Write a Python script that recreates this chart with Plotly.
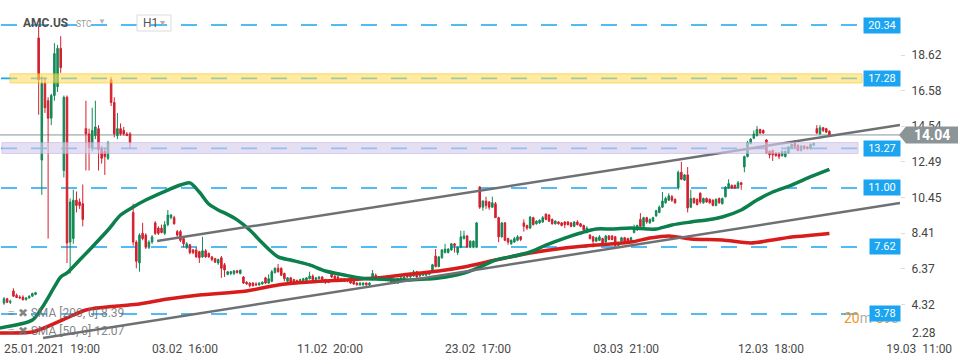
import plotly.graph_objects as go

# ---------------- data ----------------
# hourly candles (open, high, low, close), in time order, split by period
CANDLES_25_26JAN = [
    (4.40, 4.75, 4.30, 4.65), (4.65, 4.70, 4.40, 4.45), (4.45, 4.60, 4.35, 4.50),
    (5.10, 5.25, 4.75, 4.80), (4.85, 4.95, 4.70, 4.72), (4.75, 4.85, 4.65, 4.70),
    (4.75, 4.85, 4.55, 4.60), (4.60, 4.75, 4.55, 4.70), (4.70, 4.85, 4.65, 4.80),
    (4.80, 5.00, 4.75, 4.95), (4.90, 5.05, 4.85, 5.00),
]
CANDLES_27_28JAN = [
    (19.6, 20.3, 15.2, 17.2), (12.6, 17.4, 10.6, 17.0), (17.0, 17.3, 15.3, 15.6),
    (16.0, 16.2, 8.1, 15.0), (15.0, 16.4, 14.6, 16.3), (16.3, 19.3, 16.0, 18.7),
    (16.8, 19.2, 16.5, 19.0), (19.0, 19.7, 17.6, 17.9), (12.0, 16.3, 11.6, 16.2),
    (16.2, 16.3, 6.7, 7.85), (7.9, 10.4, 6.1, 10.2), (8.1, 10.9, 7.8, 10.3),
    (10.3, 10.8, 9.6, 10.0), (10.2, 10.4, 9.8, 10.0), (10.1, 11.2, 8.8, 9.2),
]
CANDLES_29JAN_02FEB = [
    (14.4, 16.0, 12.0, 14.1), (14.1, 14.4, 12.0, 13.3), (13.3, 15.6, 13.1, 14.3),
    (14.0, 16.0, 13.8, 14.5), (14.4, 14.6, 12.0, 13.2), (13.2, 13.4, 12.4, 12.7),
    (13.1, 13.3, 11.75, 12.8), (12.7, 13.7, 12.6, 13.6), (17.2, 17.35, 15.7, 15.9),
    (15.9, 16.2, 13.9, 14.1), (14.0, 15.3, 13.8, 14.4), (14.4, 14.7, 14.0, 14.1),
    (14.3, 14.5, 14.0, 14.1), (14.1, 14.2, 14.0, 14.0), (14.1, 14.2, 13.3, 13.6),
]
CANDLES_FEB_A = [
    (9.6, 10.1, 7.7, 7.9), (7.9, 8.0, 6.4, 6.8), (6.7, 8.4, 6.2, 8.3), (8.4, 9.0, 8.0, 8.1),
    (8.3, 8.4, 7.5, 7.6), (7.6, 8.0, 7.5, 7.9), (7.9, 8.3, 7.8, 8.2), (9.0, 9.1, 8.3, 8.4),
    (8.7, 8.8, 8.3, 8.4), (8.7, 8.9, 8.4, 8.45), (8.4, 9.1, 8.3, 8.9), (8.9, 9.74, 8.8, 9.45),
    (9.3, 9.5, 9.2, 9.45), (9.3, 9.4, 8.9, 8.95), (8.5, 8.6, 8.2, 8.3), (8.5, 8.6, 7.9, 8.0),
    (8.1, 8.2, 7.6, 7.8), (7.6, 7.9, 7.5, 7.8), (7.75, 7.8, 7.2, 7.3), (7.45, 7.5, 7.2, 7.3),
    (7.45, 7.6, 7.0, 7.05), (7.35, 7.4, 6.7, 7.0), (7.05, 8.2, 7.0, 7.4), (7.4, 7.5, 7.0, 7.05),
    (7.25, 7.3, 7.0, 7.05), (7.05, 7.1, 6.8, 6.9), (6.95, 7.0, 6.7, 6.75), (6.7, 6.95, 6.6, 6.9),
    (7.0, 7.1, 5.85, 6.4), (6.6, 6.7, 5.9, 6.3), (6.05, 6.25, 6.0, 6.2), (6.1, 6.25, 6.0, 6.2),
    (6.1, 6.3, 6.0, 6.25), (6.25, 6.3, 6.1, 6.15), (6.1, 6.3, 6.05, 6.3), (5.9, 5.95, 5.5, 5.55),
    (5.6, 5.65, 5.45, 5.5), (5.55, 5.6, 5.3, 5.4), (5.55, 5.6, 5.35, 5.4), (5.5, 5.6, 5.4, 5.45),
]
CANDLES_FEB_B = [
    (5.45, 5.6, 5.4, 5.55), (5.5, 5.65, 5.45, 5.6), (5.85, 5.9, 5.5, 5.55), (5.55, 6.05, 5.5, 5.8),
    (5.65, 6.3, 5.6, 6.2), (6.15, 6.45, 6.1, 6.4), (6.4, 6.65, 6.15, 6.2), (6.4, 6.45, 5.95, 6.0),
    (6.1, 6.15, 5.65, 5.8), (5.65, 5.9, 5.6, 5.85), (5.85, 5.9, 5.55, 5.6), (5.75, 5.8, 5.5, 5.55),
    (5.7, 5.75, 5.5, 5.55), (5.55, 5.8, 5.5, 5.75), (5.7, 5.85, 5.6, 5.8), (5.7, 5.9, 5.6, 5.85),
    (5.8, 6.2, 5.75, 5.95), (5.95, 6.05, 5.65, 5.75), (5.75, 5.9, 5.7, 5.85), (5.8, 5.95, 5.75, 5.9),
    (5.9, 5.95, 5.6, 5.7), (5.75, 5.8, 5.5, 5.6), (5.65, 5.75, 5.55, 5.6), (6.1, 6.25, 5.85, 5.9),
    (5.95, 6.0, 5.75, 5.8), (5.9, 6.0, 5.65, 5.7), (5.8, 5.85, 5.6, 5.65), (5.65, 5.85, 5.6, 5.8),
    (5.75, 5.8, 5.6, 5.7), (5.7, 5.75, 5.5, 5.55), (5.65, 5.7, 5.45, 5.5), (5.55, 5.6, 5.4, 5.45),
    (5.45, 5.6, 5.4, 5.55), (5.45, 5.6, 5.4, 5.55), (5.55, 5.6, 5.4, 5.45), (5.45, 5.6, 5.4, 5.55),
    (5.9, 6.3, 5.85, 6.1), (6.0, 6.1, 5.75, 5.8), (5.75, 5.9, 5.7, 5.85), (5.8, 5.95, 5.75, 5.9),
    (5.9, 5.95, 5.7, 5.75), (5.8, 5.85, 5.65, 5.7), (5.75, 5.8, 5.5, 5.6), (5.7, 5.75, 5.5, 5.55),
    (5.55, 5.85, 5.5, 5.8), (5.7, 5.95, 5.65, 5.85), (5.8, 5.95, 5.75, 5.9), (6.05, 6.1, 5.85, 5.9),
    (5.9, 6.15, 5.85, 6.1), (5.95, 6.3, 5.9, 6.2), (6.2, 6.25, 5.85, 5.9), (5.95, 6.15, 5.9, 6.1),
    (6.0, 6.15, 5.95, 6.1), (6.0, 6.2, 5.95, 6.1), (6.05, 6.25, 6.0, 6.2), (6.25, 6.65, 6.2, 6.6),
]
CANDLES_LATE_FEB = [
    (7.1, 7.5, 6.45, 6.5), (6.5, 7.1, 6.45, 7.05), (7.0, 7.5, 6.95, 7.45), (7.3, 7.8, 7.25, 7.5),
    (7.3, 7.55, 7.25, 7.5), (7.45, 7.85, 7.4, 7.8), (7.8, 7.85, 7.3, 7.7), (7.3, 7.65, 7.15, 7.6),
    (7.6, 8.55, 7.55, 8.2), (8.1, 8.55, 8.05, 8.25), (8.25, 8.3, 7.6, 7.6), (7.6, 8.0, 7.55, 7.95),
    (7.6, 8.0, 7.55, 7.95), (7.6, 9.05, 7.55, 9.0), (11.06, 11.1, 9.8, 9.9), (9.9, 10.3, 9.7, 10.25),
    (10.25, 10.5, 9.8, 10.0), (10.2, 10.25, 9.75, 9.9), (9.9, 10.5, 9.85, 10.15), (10.1, 10.2, 9.3, 9.3),
    (9.3, 9.35, 7.9, 8.2), (8.2, 9.05, 8.15, 9.0), (9.0, 9.05, 7.95, 8.0), (8.1, 8.15, 7.75, 7.9),
    (7.8, 8.05, 7.75, 8.0), (7.9, 8.2, 7.85, 8.1), (8.0, 8.3, 7.95, 8.2), (8.2, 8.25, 7.95, 8.05),
    (9.0, 9.2, 8.5, 8.8), (8.85, 8.9, 8.6, 8.7), (8.7, 9.4, 8.65, 9.33), (9.3, 9.35, 8.85, 8.9),
    (8.95, 9.15, 8.9, 9.1), (9.0, 9.2, 8.95, 9.15), (9.05, 9.4, 9.0, 9.3), (9.5, 9.55, 9.15, 9.2),
    (9.45, 9.5, 9.05, 9.1), (9.2, 9.25, 8.9, 8.95), (8.95, 9.15, 8.9, 9.1), (9.05, 9.1, 8.9, 8.95),
    (9.0, 9.05, 8.8, 8.85), (9.05, 9.1, 8.7, 8.9), (9.05, 9.1, 8.85, 8.9), (9.0, 9.05, 8.75, 8.8),
    (8.8, 9.1, 8.75, 9.05), (9.05, 9.15, 8.85, 8.9), (8.95, 9.0, 8.75, 8.8), (8.85, 8.9, 8.55, 8.6),
    (8.45, 8.8, 8.4, 8.7),
]
CANDLES_MARCH = [
    (8.3, 8.35, 8.05, 8.1), (8.2, 8.25, 7.6, 7.95), (7.95, 8.2, 7.9, 8.15), (8.0, 8.3, 7.95, 8.2),
    (8.1, 8.15, 7.8, 7.85), (7.9, 8.3, 7.85, 8.25), (8.25, 8.3, 8.0, 8.05), (8.25, 8.3, 8.0, 8.05),
    (8.2, 8.25, 7.65, 7.7), (7.7, 7.9, 7.65, 7.8), (7.95, 8.2, 7.9, 8.15), (8.15, 8.2, 7.9, 7.95),
    (8.1, 8.15, 7.9, 7.95), (7.95, 8.2, 7.9, 8.15), (8.45, 8.9, 8.4, 8.75), (8.6, 8.9, 8.55, 8.85),
    (9.2, 9.56, 8.75, 8.8), (8.8, 9.35, 8.75, 9.3), (9.3, 9.35, 8.95, 9.05), (9.0, 9.25, 8.95, 9.2),
    (9.1, 9.35, 9.05, 9.3), (9.4, 9.75, 9.35, 9.7), (9.6, 10.0, 9.55, 9.9), (9.9, 10.77, 9.85, 10.25),
    (10.15, 10.5, 10.1, 10.4), (10.3, 10.7, 10.25, 10.55), (10.5, 10.6, 10.2, 10.3), (10.35, 10.4, 10.1, 10.15),
    (11.0, 12.0, 10.9, 11.9), (11.9, 12.5, 11.45, 11.5), (11.45, 11.8, 11.4, 11.75), (11.75, 12.2, 9.6, 9.85),
    (9.9, 10.9, 9.85, 10.4), (10.4, 10.45, 10.1, 10.15), (10.35, 10.4, 10.0, 10.05), (10.7, 10.75, 10.1, 10.2),
    (10.15, 10.45, 10.1, 10.4), (10.4, 10.45, 10.15, 10.2), (10.35, 10.4, 10.1, 10.15), (10.3, 10.35, 9.95, 10.0),
    (10.0, 10.4, 9.95, 10.35), (10.4, 10.45, 10.1, 10.15), (10.1, 10.45, 10.05, 10.4), (10.5, 11.1, 10.45, 11.05),
    (11.0, 11.5, 10.95, 11.25), (11.15, 11.2, 10.95, 11.0), (11.15, 11.2, 10.95, 11.0), (11.0, 11.4, 10.95, 11.3),
    (11.3, 11.35, 10.9, 11.2),
]
CANDLES_MID_MARCH = [
    (12.2, 12.85, 11.9, 12.8), (12.8, 13.7, 12.75, 13.6), (13.55, 13.85, 13.5, 13.8), (13.85, 14.3, 13.8, 14.1),
    (14.0, 14.55, 13.95, 14.35), (14.35, 14.4, 14.1, 14.15), (14.3, 14.35, 14.1, 14.15), (13.75, 13.8, 12.95, 13.0),
    (13.1, 13.15, 12.7, 12.9), (13.15, 13.2, 12.55, 12.9), (13.0, 13.05, 12.8, 12.85), (13.0, 13.05, 12.65, 12.8),
    (12.85, 13.15, 12.8, 13.1), (12.8, 13.15, 12.75, 13.1), (13.0, 13.4, 12.95, 13.35), (13.3, 13.55, 13.25, 13.5),
    (13.55, 13.75, 13.3, 13.35), (13.45, 13.5, 13.1, 13.15), (13.15, 13.45, 13.1, 13.4), (13.4, 13.45, 13.2, 13.25),
    (13.35, 13.4, 13.2, 13.25), (13.25, 13.55, 13.2, 13.5), (13.45, 13.6, 13.4, 13.55), (14.4, 14.6, 14.1, 14.15),
    (14.1, 14.6, 14.05, 14.45), (14.45, 14.5, 14.2, 14.3), (14.4, 14.45, 14.15, 14.2), (14.25, 14.3, 13.95, 14.04),
]

# moving averages sampled along the chart (bar index, value)
SMA50_IDX = [-1.3, 9, 12, 16, 18, 20, 24, 28, 33, 37, 41, 45, 52, 56, 59, 62, 65, 68, 70, 74, 78, 82,
             87, 91, 97, 102, 108, 113, 118, 124, 129, 134, 138, 146, 151, 156, 162, 167, 172, 178,
             183, 188, 193, 199, 204, 207, 212, 218, 223, 228, 234, 239, 244, 250, 255, 262]
SMA50_VAL = [2.98, 3.43, 4.12, 5.33, 5.90, 6.13, 6.87, 7.62, 8.59, 9.45, 9.91, 10.31, 10.88, 11.17, 11.29,
             10.77, 10.08, 9.74, 9.57, 9.17, 8.59, 7.85, 7.05, 6.87, 6.59, 6.24, 6.01, 5.84, 5.78, 5.73,
             5.73, 5.78, 5.84, 6.13, 6.47, 6.87, 7.10, 7.33, 7.73, 8.13, 8.42, 8.65, 8.65, 8.71, 8.65,
             8.65, 8.88, 9.05, 9.17, 9.34, 9.74, 10.31, 10.77, 11.17, 11.57, 12.07]
SMA200_IDX = [-1.3, 9, 12, 20, 26, 36, 43, 52, 62, 77, 87, 97, 108, 118, 129, 138, 146, 156, 167, 178,
              188, 199, 205, 211, 218, 228, 237, 244, 250, 257, 262]
SMA200_VAL = [2.69, 2.75, 2.92, 3.55, 4.01, 4.24, 4.35, 4.64, 4.87, 5.10, 5.44, 5.61, 5.73, 5.84, 6.07,
              6.24, 6.47, 6.87, 7.27, 7.56, 7.73, 7.90, 8.13, 8.25, 8.08, 8.02, 7.85, 8.02, 8.19, 8.30, 8.39]

# channel lines (bar index, price)
TREND_UPPER_IDX = [48.6, 284.4]
TREND_UPPER_VAL = [7.96, 14.61]
TREND_LOWER_IDX = [12.4, 284.4]
TREND_LOWER_VAL = [2.40, 10.14]

LEVELS = [20.34, 17.28, 13.27, 11.00, 7.62, 3.78]
YELLOW_ZONE = [17.02, 17.54]
PURPLE_ZONE = [12.98, 13.60]

X_TICK_IDX = [0, 47, 93, 140, 187, 233, 280]
X_TICK_TEXT = ["25.01.2021  19:00", "03.02  16:00", "11.02  20:00", "23.02  17:00",
               "03.03  21:00", "12.03  18:00", "19.03  11:00"]
Y_TICKS = [18.62, 16.58, 14.54, 12.49, 10.45, 8.41, 6.37, 4.32, 2.28]

# ---------------- build ----------------
CANDLES = (CANDLES_25_26JAN + CANDLES_27_28JAN + CANDLES_29JAN_02FEB + CANDLES_FEB_A +
           CANDLES_FEB_B + CANDLES_LATE_FEB + CANDLES_MARCH + CANDLES_MID_MARCH)
N = len(CANDLES)
xs = list(range(N))
op = [c[0] for c in CANDLES]
hi = [c[1] for c in CANDLES]
lo = [c[2] for c in CANDLES]
cl = [c[3] for c in CANDLES]
last = cl[-1]

W, H = 970, 364
ML, MR, MT, MB = 0, 70, 0, 24
PW, PH = W - ML - MR, H - MT - MB
Y0, Y1 = 2.288, 21.773
X0, X1 = -1.27, 284.4
FONT = "Roboto"
GREEN = "#138a58"
RED = "#d3202e"
BLUE = "#1ba4f0"

def px_x(p):  # pixel -> paper
    return p / PW

def px_y(p):
    return 1 - p / PH

fig = go.Figure()
fig.add_trace(go.Candlestick(
    x=xs, open=op, high=hi, low=lo, close=cl,
    increasing=dict(line=dict(color=GREEN, width=1), fillcolor=GREEN),
    decreasing=dict(line=dict(color=RED, width=1), fillcolor=RED),
    whiskerwidth=0, showlegend=False, hoverinfo="skip"))
fig.add_trace(go.Scatter(x=SMA200_IDX, y=SMA200_VAL, mode="lines",
                         line=dict(color="#d81c1c", width=3.5, shape="spline", smoothing=0.8),
                         showlegend=False, hoverinfo="skip"))
fig.add_trace(go.Scatter(x=SMA50_IDX, y=SMA50_VAL, mode="lines",
                         line=dict(color="#0b7f4c", width=3.5, shape="spline", smoothing=0.8),
                         showlegend=False, hoverinfo="skip"))
for tx, ty in [(TREND_UPPER_IDX, TREND_UPPER_VAL), (TREND_LOWER_IDX, TREND_LOWER_VAL)]:
    fig.add_trace(go.Scatter(x=tx, y=ty, mode="lines", line=dict(color="#6d7174", width=2.5),
                             showlegend=False, hoverinfo="skip"))

shapes = []
for lv in LEVELS:
    shapes.append(dict(type="line", xref="paper", yref="y", x0=px_x(1), x1=px_x(861), y0=lv, y1=lv,
                       line=dict(color=BLUE, width=1.6, dash="16px,14px"), layer="below"))
shapes.append(dict(type="line", xref="paper", yref="y", x0=0, x1=1, y0=last, y1=last,
                   line=dict(color="#8a9498", width=1), layer="below"))
shapes.append(dict(type="rect", xref="paper", yref="y", x0=px_x(10), x1=px_x(862),
                   y0=YELLOW_ZONE[0], y1=YELLOW_ZONE[1], fillcolor="#ffe066",
                   line=dict(color="#f2c200", width=1), opacity=0.6, layer="above"))
shapes.append(dict(type="rect", xref="paper", yref="y", x0=px_x(2), x1=px_x(858),
                   y0=PURPLE_ZONE[0], y1=PURPLE_ZONE[1], fillcolor="#d8cfee",
                   line=dict(color="#bfb0dd", width=1), opacity=0.65, layer="above"))
# current price tag
hh = 8.5 * (Y1 - Y0) / PH
a, b, c = 1 + px_x(-1), 1 + px_x(6), 1 + px_x(58)
shapes.append(dict(type="path", xref="paper", yref="y",
                   path=f"M {a},{last} L {b},{last+hh} L {c},{last+hh} L {c},{last-hh} L {b},{last-hh} Z",
                   fillcolor="#8b9497", line=dict(width=0), layer="above"))
# H1 box
shapes.append(dict(type="rect", xref="paper", yref="paper", x0=px_x(137), x1=px_x(171),
                   y0=px_y(31), y1=px_y(15), line=dict(color="#dcdcdc", width=1),
                   fillcolor="rgba(255,255,255,0)", layer="above"))

ann = []
ann.append(dict(text="<b>AMC.US</b>", x=px_x(21), y=px_y(23), xref="paper", yref="paper",
                xanchor="left", yanchor="middle", showarrow=False,
                font=dict(family=FONT, size=12, color="#4f4f4f")))
ann.append(dict(text="STC", x=px_x(74), y=px_y(24), xref="paper", yref="paper",
                xanchor="left", yanchor="middle", showarrow=False,
                font=dict(family=FONT, size=8.5, color="#9a9a9a")))
ann.append(dict(text="▼", x=px_x(96), y=px_y(22), xref="paper", yref="paper",
                xanchor="left", yanchor="middle", showarrow=False,
                font=dict(family=FONT, size=8, color="#b5b5b5")))
ann.append(dict(text="H1", x=px_x(141), y=px_y(23), xref="paper", yref="paper",
                xanchor="left", yanchor="middle", showarrow=False,
                font=dict(family=FONT, size=12, color="#555555")))
ann.append(dict(text="▾", x=px_x(158), y=px_y(23), xref="paper", yref="paper",
                xanchor="left", yanchor="middle", showarrow=False,
                font=dict(family=FONT, size=10, color="#b0b0b0")))
# legend of indicators
ann.append(dict(text=f"≡ ✖ SMA [200, 0] {SMA200_VAL[-1]:.2f}", x=px_x(6), y=px_y(313),
                xref="paper", yref="paper", xanchor="left", yanchor="middle", showarrow=False,
                font=dict(family=FONT, size=12, color="rgba(110,110,110,0.85)")))
ann.append(dict(text=f"≡ ✖ SMA [50, 0] {SMA50_VAL[-1]:.2f}", x=px_x(6), y=px_y(331),
                xref="paper", yref="paper", xanchor="left", yanchor="middle", showarrow=False,
                font=dict(family=FONT, size=12, color="rgba(110,110,110,0.85)")))
# countdown watermark
ann.append(dict(text="<span style='color:#f5951f'>20</span><span style='color:#b0b0b0'>m</span> "
                     "<span style='color:#f5951f'>59</span><span style='color:#b0b0b0'>s</span>",
                x=px_x(842), y=px_y(318), xref="paper", yref="paper", xanchor="left",
                yanchor="middle", showarrow=False, font=dict(family=FONT, size=14)))
# level boxes
for lv in LEVELS:
    t = f"{lv:.2f}"
    ann.append(dict(text=t, x=1 + px_x(1), y=lv, xref="paper", yref="y", xanchor="right",
                    yanchor="middle", showarrow=False, bgcolor=BLUE, borderpad=1,
                    width=6 * len(t) + 4, height=13,
                    font=dict(family=FONT, size=11, color="white")))
# current price text
ann.append(dict(text=f"<b>{last:.2f}</b>", x=1 + px_x(32), y=last, xref="paper", yref="y",
                xanchor="center", yanchor="middle", showarrow=False,
                font=dict(family=FONT, size=14, color="white")))
# lowest y tick label (drawn by hand so it stays above the time labels)
ann.append(dict(text=f"{Y_TICKS[-1]:.2f}", x=1 + px_x(10), y=px_y(333), xref="paper", yref="paper",
                xanchor="left", yanchor="middle", showarrow=False,
                font=dict(family=FONT, size=12, color="#444444")))

fig.update_layout(
    width=W, height=H, margin=dict(l=ML, r=MR, t=MT, b=MB),
    paper_bgcolor="white", plot_bgcolor="white",
    shapes=shapes, annotations=ann, showlegend=False,
    xaxis=dict(range=[X0, X1], showgrid=False, zeroline=False, showline=False,
               rangeslider=dict(visible=False), tickvals=X_TICK_IDX,
               ticktext=[t.replace(" ", "\u00a0") for t in X_TICK_TEXT],
               ticklabelposition="outside right", ticks="",
               tickfont=dict(family=FONT, size=12, color="#4a4a4a")),
    yaxis=dict(range=[Y0, Y1], side="right", showgrid=False, zeroline=False, showline=False,
               tickvals=Y_TICKS[:-1], ticktext=[f"{v:.2f}" for v in Y_TICKS[:-1]],
               ticks="outside", ticklen=4, tickcolor="#dddddd", ticklabelstandoff=4,
               tickfont=dict(family=FONT, size=12, color="#444444")),
)

fig.write_html("out.html", config={"displayModeBar": False},
               post_script="document.body.style.margin='0';document.body.style.overflow='hidden';")
